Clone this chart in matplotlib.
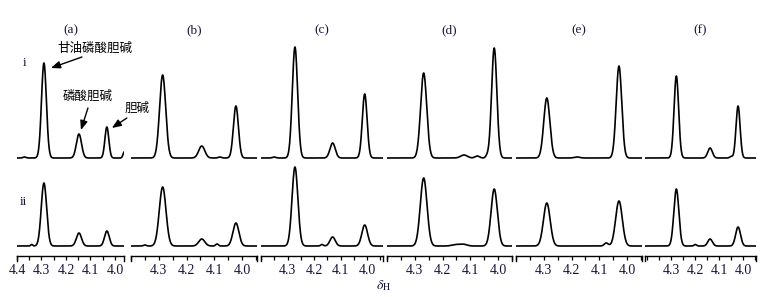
import numpy as np
import matplotlib.pyplot as plt
from matplotlib.ticker import MultipleLocator, FixedLocator
from matplotlib.patches import FancyArrowPatch

plt.rcParams['font.family'] = ['Liberation Serif', 'DejaVu Serif']
plt.rcParams['mathtext.fontset'] = 'stix'

# panel labels and x ranges (ppm)
panels = ['(a)', '(b)', '(c)', '(d)', '(e)', '(f)']
x_left = [4.40, 4.40, 4.40, 4.40, 4.40, 4.41]
x_right = [3.963, 3.946, 3.94, 3.95, 3.946, 3.946]
ticks_a = [4.4, 4.3, 4.2, 4.1, 4.0]
ticks_rest = [4.3, 4.2, 4.1, 4.0]

# chemical shifts of the three resonances per panel
gpc_shift = [4.290, 4.286, 4.272, 4.268, 4.289, 4.279]
pc_shift = [4.147, 4.145, 4.130, 4.123, 4.140, 4.138]
cho_shift = [4.033, 4.022, 4.009, 4.014, 4.029, 4.021]

# peak heights, row i and row ii
gpc_i = [95, 83, 111, 85, 60, 82]
pc_i = [24, 12, 15, 3, 0, 10]
cho_i = [31, 52, 64, 110, 92, 52]
gpc_ii = [63, 59, 79, 68, 43, 57]
pc_ii = [13, 7, 9, 1.5, 0, 7]
cho_ii = [15, 23, 21, 57, 45, 19]

# line widths (sigma, ppm)
gpc_w = [0.0100, 0.0110, 0.0100, 0.0110, 0.0110, 0.0095]
pc_w = [0.0105, 0.0110, 0.0100, 0.0120, 0.0110, 0.0095]
cho_w = [0.0080, 0.0090, 0.0090, 0.0095, 0.0100, 0.0085]

# small extra bumps (shift, height, sigma)
minor_i = [[(3.962, 6, 0.005), (4.37, 1, 0.006)], [(4.08, 1, 0.006)], [(4.35, 1, 0.006)],
           [(4.075, 2, 0.008), (4.04, 2, 0.005)], [(4.18, 1, 0.01)], [(4.05, 1.5, 0.006)]]
minor_ii = [[(4.34, 1.5, 0.004)], [(4.09, 2, 0.005), (4.35, 1, 0.005)], [(4.17, 1.5, 0.005)],
            [(4.15, 1.5, 0.015)], [(4.075, 3, 0.007)], [(4.20, 1.5, 0.005)]]

# layout in figure pixels
W, H = 772, 297
px_left = [17, 131, 261, 387, 516, 645]
px_right = [124, 257, 383, 512, 642, 756]


def spectrum(x, peaks):
    y = np.zeros_like(x)
    for c, h, s in peaks:
        y += h * np.exp(-0.5 * ((x - c) / s) ** 2)
    return y


fig = plt.figure(figsize=(W / 100, H / 100), dpi=100)
txt_col = '#16163c'
cjk = ['Noto Sans CJK SC', 'DejaVu Sans']

for k in range(6):
    x = np.linspace(x_left[k], x_right[k], 700)
    left = px_left[k] / W
    width = (px_right[k] - px_left[k]) / W

    ax1 = fig.add_axes([left, 1 - 160 / H, width, 120 / H])
    ax2 = fig.add_axes([left, 1 - 256 / H, width, 96 / H])

    p1 = [(gpc_shift[k], gpc_i[k], gpc_w[k]), (pc_shift[k], pc_i[k], pc_w[k]),
          (cho_shift[k], cho_i[k], cho_w[k])] + minor_i[k]
    p2 = [(gpc_shift[k], gpc_ii[k], gpc_w[k] * 1.1), (pc_shift[k], pc_ii[k], pc_w[k]),
          (cho_shift[k], cho_ii[k], cho_w[k] * 1.2)] + minor_ii[k]

    ax1.plot(x, spectrum(x, p1), color='black', lw=1.2)
    ax2.plot(x, spectrum(x, p2), color='black', lw=1.2)

    ax1.set_xlim(x_left[k], x_right[k])
    ax1.set_ylim(-2, 118)
    ax1.axis('off')

    ticks = ticks_a if k == 0 else ticks_rest
    ax2.set_xlim(x_left[k], x_right[k])
    ax2.set_ylim(-10, 86)
    for s in ['top', 'left', 'right']:
        ax2.spines[s].set_visible(False)
    ax2.spines['bottom'].set_linewidth(1.0)
    ax2.set_yticks([])
    ax2.xaxis.set_major_locator(FixedLocator(ticks))
    ax2.xaxis.set_minor_locator(MultipleLocator(0.05))
    ax2.tick_params(axis='x', which='both', direction='out', length=3, width=0.9,
                    labelsize=10, labelcolor=txt_col, pad=3)
    ax2.set_xticklabels(['%.1f' % t for t in ticks])
    # bracket ends
    for xe in (0, 1):
        ax2.plot([xe, xe], [0, -4.5 / 96], transform=ax2.transAxes, color='black',
                 lw=1.0, clip_on=False)

    fig.text((px_left[k] + px_right[k]) / 2 / W, 1 - 30 / H, panels[k],
             ha='center', va='center', fontsize=9.5, color=txt_col)

    if k == 0:
        # labels and arrows placed relative to the top of each peak (pixels)
        notes = [('甘油磷酸胆碱', gpc_shift[0], gpc_i[0], (51, 15), (38, 6), (7, -5)),
                 ('磷酸胆碱', pc_shift[0], pc_i[0], (9, 38), (9, 26), (2, 4)),
                 ('胆碱', cho_shift[0], cho_i[0], (30, 19), (20, 9), (5, -1))]
        for label, cx, cy, toff, tail, head in notes:
            ax1.annotate(label, xy=(cx, cy), xytext=toff, textcoords='offset pixels',
                         ha='center', va='center', fontsize=9, family=cjk)
            px, py = ax1.transData.transform((cx, cy))
            a = FancyArrowPatch((px + tail[0], py + tail[1]), (px + head[0], py + head[1]),
                                transform=None,
                                arrowstyle='-|>,head_length=0.55,head_width=0.22',
                                color='black', lw=1.0, shrinkA=0, shrinkB=0,
                                mutation_scale=10)
            fig.patches.append(a)

fig.text(25 / W, 1 - 63 / H, 'i', ha='center', va='center', fontsize=9.5, color=txt_col)
fig.text(23 / W, 1 - 202 / H, 'ii', ha='center', va='center', fontsize=9.5, color=txt_col)
fig.text(384 / W, 1 - 286 / H, r'$\delta_{\mathrm{H}}$', ha='center', va='center',
         fontsize=10, color=txt_col)

fig.savefig('out.png', dpi=100)
